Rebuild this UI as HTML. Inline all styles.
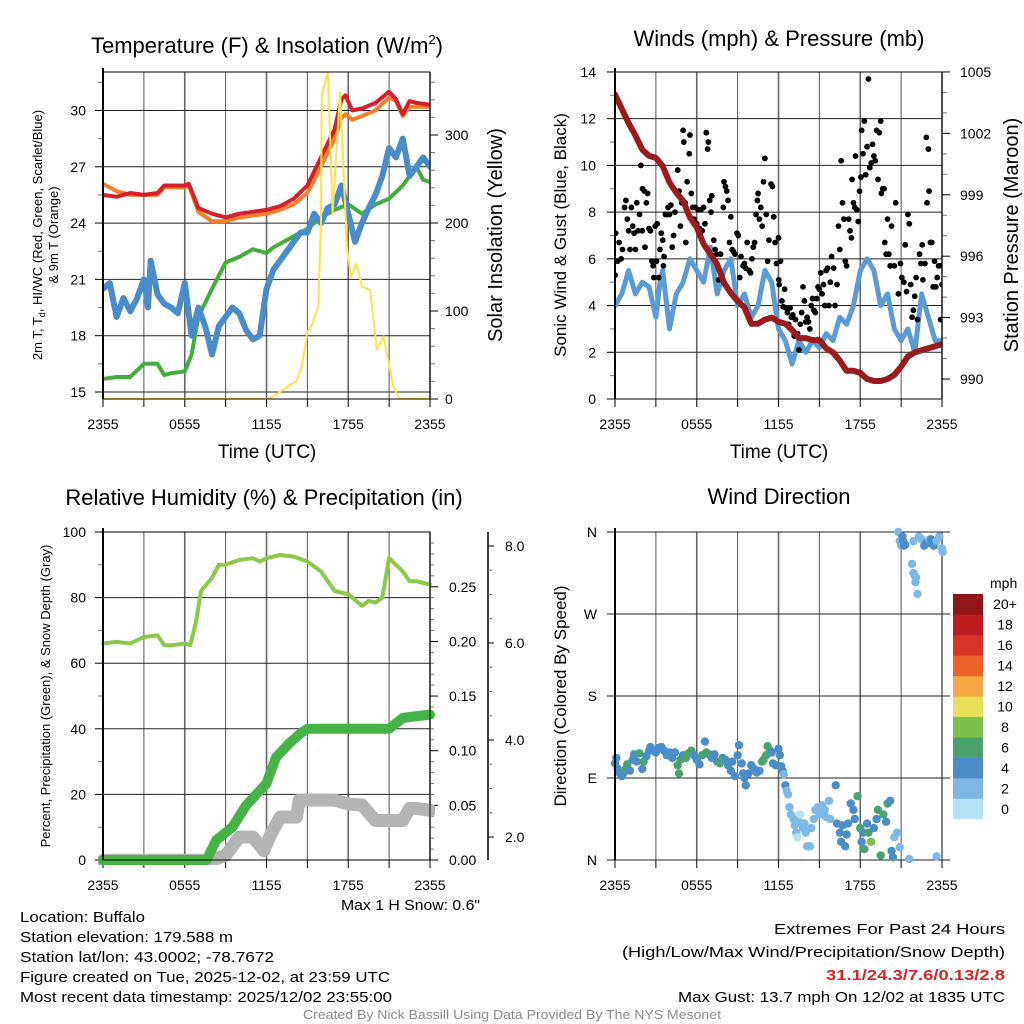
<!DOCTYPE html>
<html><head><meta charset="utf-8"><style>
html,body{margin:0;padding:0;background:#fff;}
svg{display:block;font-family:"Liberation Sans",Arial,sans-serif;}
</style></head><body>
<svg id="fig" width="1024" height="1024" viewBox="0 0 1024 1024" xmlns="http://www.w3.org/2000/svg">
<defs>
<clipPath id="cTL"><rect x="103" y="72" width="327" height="327"/></clipPath>
<clipPath id="cTR"><rect x="615" y="72" width="327" height="327"/></clipPath>
<clipPath id="cBL"><rect x="98" y="527" width="337" height="338"/></clipPath>
<clipPath id="cBR"><rect x="608" y="525" width="340" height="342"/></clipPath>
</defs>
<g font-size="15">
<text x="20" y="922" textLength="125" lengthAdjust="spacingAndGlyphs">Location: Buffalo</text>
<text x="20" y="942" textLength="213" lengthAdjust="spacingAndGlyphs">Station elevation: 179.588 m</text>
<text x="20" y="962" textLength="254" lengthAdjust="spacingAndGlyphs">Station lat/lon: 43.0002; -78.7672</text>
<text x="20" y="982" textLength="370" lengthAdjust="spacingAndGlyphs">Figure created on Tue, 2025-12-02, at 23:59 UTC</text>
<text x="20" y="1002" textLength="372" lengthAdjust="spacingAndGlyphs">Most recent data timestamp: 2025/12/02 23:55:00</text>
<text x="341" y="910" textLength="139" lengthAdjust="spacingAndGlyphs">Max 1 H Snow: 0.6"</text>
<text x="774" y="934" textLength="231" lengthAdjust="spacingAndGlyphs">Extremes For Past 24 Hours</text>
<text x="622" y="957" textLength="383" lengthAdjust="spacingAndGlyphs">(High/Low/Max Wind/Precipitation/Snow Depth)</text>
<text x="826" y="980" textLength="179" lengthAdjust="spacingAndGlyphs" font-weight="bold" fill="#d3262b">31.1/24.3/7.6/0.13/2.8</text>
<text x="678" y="1002" textLength="327" lengthAdjust="spacingAndGlyphs">Max Gust: 13.7 mph On 12/02 at 1835 UTC</text>
<text x="303" y="1019" font-size="12.5" textLength="418" lengthAdjust="spacingAndGlyphs" fill="#8a8a8a">Created By Nick Bassill Using Data Provided By The NYS Mesonet</text>
</g>
</svg>
<script>
// ---------- DATA ----------
const tHours=[0,1,2,3,4,4.5,5,6,6.3,7,8,9,10,11,12,13,14,15,16,17,17.5,17.8,18.3,19,20,21,21.5,22,22.5,23,24];
const tempRed=[25.5,25.4,25.6,25.5,25.6,26.0,26.0,26.0,26.1,24.8,24.5,24.3,24.5,24.6,24.7,24.9,25.3,26.0,27.5,29.0,30.6,30.8,30.0,30.1,30.4,31.0,30.6,29.8,30.5,30.4,30.3];
const tempOrange=[26.1,25.7,25.5,25.5,25.5,25.9,25.9,25.9,26.0,24.6,24.1,24.1,24.3,24.4,24.5,24.7,25.0,25.6,27.0,28.5,29.6,29.8,29.5,29.7,30.0,30.7,30.5,29.7,30.2,30.2,30.2];
const dewHours=[0,1,2,3,4,4.5,5,6,6.5,7,8,9,10,11,12,12.5,13,14,15,16,17,18,19,20,21,22,23,23.5,24];
const dewGreen=[15.7,15.8,15.8,16.5,16.5,15.9,16.0,16.1,17.0,19.0,20.5,21.9,22.2,22.6,22.4,22.7,22.9,23.3,23.7,24.3,24.7,25.0,24.5,25.0,25.3,26.0,27.0,26.3,26.2];
const hiHours=[0,0.5,1,1.5,2,2.5,3,3.3,3.5,4,4.5,5,5.5,6,6.5,7,7.5,8,8.5,9,9.5,10,10.5,11,11.5,12,12.5,13,13.5,14,14.5,15,15.5,16,16.5,17,17.5,18,18.5,19,19.5,20,20.5,21,21.5,22,22.5,23,23.5,24];
const hiBlue=[20.5,20.8,19.0,20.0,19.3,20.0,21.0,19.5,22.0,20.2,19.7,19.5,19.2,20.8,18.0,19.5,18.5,17.0,18.5,19.0,19.5,19.2,18.3,17.8,18.0,20.5,21.5,22.0,22.5,23.0,23.5,23.5,24.5,24.0,24.8,25.0,26.0,24.5,23.0,24.0,24.8,25.5,26.5,28.0,27.5,28.5,26.5,27.0,27.5,27.0];
const solarHours=[0,12,12.5,13,13.7,14.2,14.6,15,15.4,15.8,16,16.05,16.5,16.85,17.4,17.9,18.2,18.6,19,19.6,20.1,20.6,21.3,21.8,24];
const solarVals=[0,0,3,8,16,20,37,76,86,105,200,345,372,211,349,173,139,154,128,124,56,71,14,0,0];
const tempTicks=[15,18,21,24,27,30];
const solarTicks=[0,100,200,300];

const windHours=hiHours;
const windSpeed=[4.0,4.5,5.5,4.5,5.0,4.8,3.5,5.0,5.5,3.0,4.5,5.0,6.0,5.5,5.0,6.5,4.5,5.5,6.0,4.0,4.5,3.5,4.0,5.5,5.0,3.0,2.5,1.5,2.5,2.0,2.5,2.2,2.8,2.5,3.5,3.2,4.0,5.5,6.0,5.5,4.0,4.5,3.0,2.5,3.0,2.0,4.5,3.5,2.5,2.5];
const gustHours=[0,0.05,0.2,0.3,0.45,0.55,0.7,0.8,0.9,1,1.1,1.2,1.3,1.4,1.5,1.6,1.7,1.8,1.9,2,2.02,2.15,2.2,2.3,2.4,2.5,2.6,2.7,2.8,2.85,2.95,3.05,3.1,3.2,3.3,3.4,3.5,3.55,3.6,3.7,3.8,3.9,4,4.1,4.2,4.3,4.4,4.6,4.7,4.8,4.9,5,5.05,5.15,5.2,5.3,5.45,5.5,5.6,5.7,5.8,5.9,6,6.1,6.2,6.3,6.4,6.5,6.6,6.7,6.8,6.85,6.95,7.05,7.1,7.25,7.35,7.45,7.6,7.75,7.95,8,8.1,8.2,8.3,8.4,8.5,8.6,8.7,8.8,8.95,9.05,9.15,9.25,9.4,9.5,9.6,9.7,9.85,9.95,10.05,10.15,10.25,10.35,10.45,10.5,10.6,10.7,10.8,10.9,11,11.1,11.2,11.3,11.45,11.55,11.65,11.75,11.85,12,12.15,12.02,12.05,12.25,12.35,12.45,12.55,12.65,12.75,12.85,12.95,13.05,13.15,13.25,13.4,13.5,13.6,13.7,13.8,13.9,14,14.1,14.2,14.3,14.4,14.5,14.6,14.7,14.8,14.9,15,15.1,15.2,15.3,15.4,15.5,15.6,15.7,15.8,15.9,16.05,16.15,16.3,16.4,16.5,16.6,16.7,16.8,16.9,17,17.15,17.25,17.35,17.4,17.5,17.6,17.65,17.75,17.85,17.95,18.05,18.1,18.2,18.3,18.4,18.5,18.6,18.7,18.8,18.9,19,19.1,19.2,19.3,19.4,19.5,19.55,19.65,19.75,19.8,19.9,20,20.1,20.2,20.3,20.5,20.6,20.8,20.95,21.05,21.2,21.3,21.4,21.5,21.6,21.7,21.8,21.9,22,22.1,22.2,22.35,22.45,22.55,22.6,22.75,22.85,22.9,23,23.05,23.15,23.25,23.35,23.45,23.55,23.65,23.75,23.85,23.9,24];
const gustVals=[5.3,7.1,5.9,6.7,6.0,6.4,8.2,8.5,7.7,7.2,6.4,8.2,7.4,7.1,6.4,8.4,7.2,7.9,10.0,7.2,9.0,8.9,6.5,8.4,8.8,7.3,7.2,5.9,5.7,5.2,7.4,5.9,7.5,5.2,6.4,7.1,6.8,5.7,6.1,7.9,7.9,8.2,7.9,8.3,6.5,7.0,8.0,9.8,8.9,7.4,8.4,11.5,11.0,8.4,6.7,9.3,10.5,11.3,8.8,8.2,7.7,8.2,7.5,8.1,7.3,8.1,7.2,8.2,7.5,11.4,10.7,11.0,8.5,8.0,8.7,6.8,6.4,6.2,5.1,6.2,8.2,9.3,9.1,8.9,8.5,6.7,7.8,6.4,6.3,6.2,7.1,7.0,5.2,6.1,5.7,5.8,5.6,6.7,5.5,5.4,6.0,6.5,6.7,7.9,8.5,8.8,7.7,8.2,7.4,9.3,10.3,7.9,5.9,6.8,9.2,9.1,7.8,6.7,5.8,6.9,5.9,5.1,4.9,4.2,3.95,4.7,3.9,3.7,3.2,3.9,3.5,3.6,2.7,3.4,2.8,2.1,3.2,3.7,4.8,4.2,3.3,3.5,3.3,3.0,4.0,4.3,3.8,3.7,4.3,4.8,4.7,5.4,4.5,4.9,4.0,5.5,5.6,4.0,5.0,6.1,5.6,4.0,4.9,7.4,6.4,10.2,8.4,7.7,5.9,5.7,7.7,7.2,6.9,9.4,8.4,8.2,10.4,8.1,7.6,8.9,9.5,11.5,10.5,11.9,9.6,10.8,13.7,9.9,10.1,10.9,10.4,10.2,11.5,9.4,11.4,11.9,8.8,9.0,9.0,6.7,6.2,7.7,6.2,5.7,7.4,5.7,8.4,4.5,5.8,5.2,5.0,6.6,4.6,7.9,7.5,4.9,3.5,3.8,4.4,5.2,3.4,6.2,5.8,6.6,5.1,5.8,11.2,8.4,10.7,8.9,6.7,6.7,4.8,5.9,4.8,5.2,5.7,5.7,3.4,4.9];
const presHours=[0,1,1.5,2,2.5,3,3.5,4,4.5,5,5.5,6,6.5,7,7.5,8,8.5,9,9.5,10,10.5,11,11.5,12,12.5,13,13.5,14,14.5,15,15.5,16,16.5,17,17.5,18,18.5,19,19.5,20,20.5,21,21.5,22,22.5,23,23.5,24];
const presVals=[1003.9,1002.5,1001.9,1001.2,1000.9,1000.8,1000.4,999.6,999.1,998.7,997.9,997.4,996.6,996.1,995.6,994.7,994.2,993.8,993.5,992.7,992.7,992.9,993.0,992.8,992.7,992.4,992.0,992.0,991.9,991.9,991.5,991.3,990.9,990.4,990.4,990.3,990.0,989.9,989.9,990.0,990.2,990.6,991.1,991.3,991.4,991.5,991.6,991.7];
const windTicks=[0,2,4,6,8,10,12,14];
const presTicks=[990,993,996,999,1002,1005];

const rhHours=[0,1,2,3,4,4.5,5,6,6.4,6.8,7.2,8,8.5,9,10,11,11.5,12,13,14,15,16,16.5,17,18,19,19.5,20,20.5,21,21.5,22,22.5,23,24];
const rhVals=[66,66.5,66,68,68.5,65.5,65.5,66,65.5,72,82,86,90,90,91.5,92,91,92,93,92.5,91,88,85,82,81,77.5,79,78.5,80,92,90,88,85,85,84];
const precipHours=[0,7.6,8.3,9.5,10.5,12,12.7,13.7,14.5,15,21,21.3,22,24];
const precipVals=[0,0,0.018,0.030,0.050,0.070,0.094,0.107,0.116,0.120,0.120,0.123,0.130,0.133];
const snowHours=[0,8.0,9.0,10.0,11.0,11.8,12.3,13.0,14.2,14.4,15.0,17.0,18.0,19.0,19.5,20.0,21.0,22.0,22.5,23.0,24.0];
const snowVals=[1.52,1.52,1.62,2.0,2.0,1.72,2.05,2.41,2.41,2.76,2.76,2.76,2.68,2.66,2.50,2.34,2.34,2.34,2.59,2.59,2.55];
const rhTicks=[0,20,40,60,80,100];
const precipTicks=["0.00","0.05","0.10","0.15","0.20","0.25"];
const snowTicks=["2.0","4.0","6.0","8.0"];

const dirHours=[0,0.1,0.2,0.3,0.5,0.6,0.8,0.9,1.1,1.3,1.4,1.6,1.8,2,2.1,2.3,2.5,2.6,2.8,3,3.2,3.4,3.6,3.8,4,4.2,4.4,4.6,4.7,4.8,5,5.2,5.3,5.5,5.6,5.8,6,6.2,6.4,6.6,6.7,6.9,7.1,7.3,7.5,7.7,7.9,8.1,8.3,8.5,8.6,8.8,9,9.1,9.3,9.4,9.5,9.6,9.8,10,10.2,10.4,10.6,10.8,10.9,11.1,11.2,11.4,11.5,11.6,11.8,12,12.1,12.2,12.3,12.4,12.5,12.6,12.7,12.8,12.9,13.1,13.2,13.3,13.4,13.5,13.6,13.8,13.9,14,14.1,14.2,14.3,14.4,14.6,14.7,14.9,15,15.2,15.4,15.5,15.7,15.8,16.2,16.3,16.5,16.6,16.7,16.9,17.0,17.1,17.3,17.5,17.6,17.8,18.0,18.1,18.2,18.3,18.5,18.6,18.8,19.0,19.2,19.3,19.5,19.7,19.9,20.0,20.2,20.3,20.4,20.5,20.7,20.9,21.6,23.6,20.8,20.9,21.0,21.1,21.15,21.2,21.3,21.8,21.9,22.0,22.05,22.1,22.2,21.9,22.3,22.5,22.7,22.85,23.0,23.1,23.2,23.4,23.6,23.8,24.0,24.05];
const dirVals=[106,112,100,96,92,95,100,105,98,110,116,108,117,100,108,114,120,124,120,118,123,124,120,115,118,112,118,104,95,110,115,112,116,118,120,115,110,105,115,130,118,116,112,116,108,106,112,110,104,98,108,92,115,126,106,95,90,82,95,104,100,96,98,108,110,115,125,120,118,106,104,122,115,103,98,94,82,76,72,58,50,45,38,30,25,42,50,35,40,30,15,15,15,35,45,55,58,50,60,55,47,65,45,82,40,30,20,38,15,28,40,62,55,45,70,35,20,30,12,40,30,20,35,45,55,5,50,42,62,65,10,3,25,30,14,1,4,360,350,345,355,350,345,346,325,315,312,305,310,292,350,355,352,345,348,348,352,352,345,350,355,342,338];
const dirSpeed=[4,4,4,4,4,4,6,6,4,4,4,4,6,4,6,4,4,4,4,4,4,4,4,4,4,4,4,6,6,6,4,6,6,6,6,4,4,4,6,4,6,6,4,4,4,6,6,4,4,4,4,4,4,4,4,4,4,4,4,4,4,4,4,6,6,6,6,6,4,4,4,4,4,4,4,2,4,2,2,2,2,2,2,2,0,2,0,2,2,2,2,2,2,2,2,2,2,2,2,2,2,2,2,4,4,4,4,4,4,4,4,4,4,4,6,6,4,4,6,4,6,8,4,4,6,6,6,4,6,4,4,4,2,2,2,2,2,2,2,2,4,4,4,4,2,2,2,2,2,2,2,2,2,4,4,4,2,4,4,2,2,2,2];
const dirLabels=["N","E","S","W","N"];
const dirTickDeg=[0,90,180,270,360];
const cbLabels=["0","2","4","6","8","10","12","14","16","18","20+"];
const cbColors=["#b6e2f7","#7eb9e5","#4a8dc8","#4aa36f","#7cc04a","#e6e05a","#f6a644","#ee6229","#da3428","#bd1c23","#90161a"];
const timeLabels=["2355","0555","1155","1755","2355"];

// ---------- HELPERS ----------
const NS="http://www.w3.org/2000/svg";
const svg=document.getElementById('fig');
function mk(tag,attrs,parent){const e=document.createElementNS(NS,tag);for(const k in attrs)e.setAttribute(k,attrs[k]);(parent||svg).appendChild(e);return e;}
function txt(s,attrs,parent){const e=mk('text',attrs,parent);e.textContent=s;return e;}
function linePath(hs,vs,xf,yf){let d='';for(let i=0;i<hs.length;i++){d+=(i?'L':'M')+xf(hs[i]).toFixed(1)+','+yf(vs[i]).toFixed(1);}return d;}

function frame(g,X0,X1,Y0,Y1,prefix){
  for(let i=0;i<=8;i++){
    const x=X0+i*(X1-X0)/8;
    const gl=mk('line',{x1:x,y1:Y0,x2:x,y2:Y1,stroke:(i%2?'#555':'#666'),'stroke-width':(i%2?1:1.6)},g);
    
    
    const tk=mk('line',{x1:x,y1:Y1,x2:x,y2:Y1+8,stroke:'#000','stroke-width':1},g);
    
    
  }
  for(let i=0;i<timeLabels.length;i++){
    const t=txt(timeLabels[i],{x:X0+i*(X1-X0)/4,y:Y1+30,'font-size':14,'text-anchor':'middle'},g);
    
    
  }
}
function hgrid(g,X0,X1,y,prefix){
  const l=mk('line',{x1:X0,y1:y,x2:X1,y2:y,stroke:'#222','stroke-width':1},g);
  
  
  const t=mk('line',{x1:X0-8,y1:y,x2:X0,y2:y,stroke:'#000'},g);
  
  
}
function minorTick(g,x,y,dir,len,prefix){
  const t=mk('line',{x1:x,y1:y,x2:x+dir*len,y2:y,stroke:'#777','stroke-width':1},g);
  
  
}
function border(g,X0,X1,Y0,Y1,prefix){
  const b=mk('rect',{x:X0,y:Y0,width:X1-X0,height:Y1-Y0,fill:'none',stroke:'#000','stroke-width':1},g);
  
  
  const l=mk('line',{x1:X0,y1:Y0-4,x2:X0,y2:Y1,stroke:'#000','stroke-width':2},g);
  
  
}

// ============ TOP LEFT: Temperature ============
(function(){
  const X0=103,X1=430,Y0=72,Y1=399;
  const x=h=>X0+h/24*(X1-X0);
  const ty=v=>392-(v-15)*18.77;
  const sy=v=>399-v*0.88;
  const g=mk('g',{});
  
  
  const ttl=txt('Temperature (F) & Insolation (W/m',{x:267,y:53,'font-size':22,'text-anchor':'middle'},g);
  const sup=mk('tspan',{dy:-9,'font-size':13},ttl);sup.textContent='2';
  const cl=mk('tspan',{dy:9},ttl);cl.textContent=')';
  
  
  frame(g,X0,X1,Y0,Y1,'temp');
  for(const v of tempTicks){
    hgrid(g,X0,X1,ty(v),'temp');
    const t=txt(String(v),{x:86,y:ty(v)+5,'font-size':14,'text-anchor':'end'},g);
    
    
    const m=ty(v+1.5);if(m>Y0)minorTick(g,X0,m,-1,5,'temp');
  }
  for(const v of solarTicks){
    const t=mk('line',{x1:X1,y1:sy(v),x2:X1+8,y2:sy(v),stroke:'#000'},g);
    
    
    const l=txt(String(v),{x:445,y:sy(v)+5,'font-size':14},g);
    
    
  }
  for(let v=20;v<=360;v+=20){if(v%100)minorTick(g,X1,sy(v),1,5,'solar');}
  const pg=mk('g',{'clip-path':'url(#cTL)','stroke-linejoin':'round','stroke-linecap':'round',fill:'none'},g);
  const s1=mk('path',{d:linePath(dewHours,dewGreen,x,ty),stroke:'#43ad3c','stroke-width':4},pg);
  
  
  const s2=mk('path',{d:linePath(hiHours,hiBlue,x,ty),stroke:'#4a8cca','stroke-width':6},pg);
  
  
  const s3=mk('path',{d:linePath(tHours,tempOrange,x,ty),stroke:'#f47f2c','stroke-width':4},pg);
  
  
  const s4=mk('path',{d:linePath(tHours,tempRed,x,ty),stroke:'#d3202a','stroke-width':4},pg);
  
  
  const s5=mk('path',{d:linePath(solarHours,solarVals,x,sy),stroke:'#fde14e','stroke-width':2},pg);
  
  
  border(g,X0,X1,Y0,Y1,'temp');
  const xt=txt('Time (UTC)',{x:267,y:458,'font-size':19,'text-anchor':'middle'},g);
  
  
  const yt=txt('2m T, T',{x:0,y:0,'font-size':13,'text-anchor':'middle',transform:'translate(42,235) rotate(-90)'},g);
  const sub=mk('tspan',{'font-size':9,dy:3},yt);sub.textContent='d';
  const rest=mk('tspan',{dy:-3},yt);rest.textContent=', HI/WC (Red, Green, Scarlet/Blue)';
  
  
  const yt2=txt('& 9m T (Orange)',{x:0,y:0,'font-size':13,'text-anchor':'middle',transform:'translate(58,235) rotate(-90)'},g);
  
  
  const rt=txt('Solar Insolation (Yellow)',{x:0,y:0,'font-size':20,'text-anchor':'middle',transform:'translate(502,235) rotate(-90)'},g);
  
  
})();

// ============ TOP RIGHT: Winds ============
(function(){
  const X0=615,X1=942,Y0=72,Y1=399;
  const x=h=>X0+h/24*(X1-X0);
  const wy=v=>399-v*23.36;
  const py=p=>379-(p-990)*20.47;
  const g=mk('g',{});
  
  
  const ttl=txt('Winds (mph) & Pressure (mb)',{x:779,y:46,'font-size':22,'text-anchor':'middle'},g);
  
  
  frame(g,X0,X1,Y0,Y1,'wind');
  for(const v of windTicks){
    hgrid(g,X0,X1,wy(v),'wind');
    const t=txt(String(v),{x:596,y:wy(v)+5,'font-size':14,'text-anchor':'end'},g);
    
    
    if(v<14)minorTick(g,X0,wy(v+1),-1,5,'wind');
  }
  for(const p of presTicks){
    const t=mk('line',{x1:X1,y1:py(p),x2:X1+8,y2:py(p),stroke:'#000'},g);
    
    
    const l=txt(String(p),{x:960,y:py(p)+5,'font-size':14},g);
    
    
  }
  for(let p=990;p<1005;p+=1){if((p-990)%3)minorTick(g,X1,py(p),1,5,'pressure');}
  const pg=mk('g',{'clip-path':'url(#cTR)','stroke-linejoin':'round','stroke-linecap':'round',fill:'none'},g);
  const w=mk('path',{d:linePath(windHours,windSpeed,x,wy),stroke:'#5b9bd5','stroke-width':5},pg);
  
  
  for(let i=0;i<gustHours.length;i++){
    const c=mk('circle',{cx:x(gustHours[i]),cy:wy(gustVals[i]),r:2.9,fill:'#000'},pg);
    
    
  }
  const pr=mk('path',{d:linePath(presHours,presVals,x,py),stroke:'#981b1e','stroke-width':6},pg);
  
  
  border(g,X0,X1,Y0,Y1,'wind');
  const xt=txt('Time (UTC)',{x:779,y:458,'font-size':19,'text-anchor':'middle'},g);
  
  
  const yt=txt('Sonic Wind & Gust (Blue, Black)',{x:0,y:0,'font-size':17,'text-anchor':'middle',transform:'translate(566,235) rotate(-90)'},g);
  
  
  const rt=txt('Station Pressure (Maroon)',{x:0,y:0,'font-size':20,'text-anchor':'middle',transform:'translate(1018,235) rotate(-90)'},g);
  
  
})();

// ============ BOTTOM LEFT: RH ============
(function(){
  const X0=103,X1=430,Y0=532,Y1=860;
  const x=h=>X0+h/24*(X1-X0);
  const ry=v=>860-v*3.28;
  const prY=v=>860-v*1093;
  const snY=v=>837-(v-2)*48.5;
  const g=mk('g',{});
  
  
  const ttl=txt('Relative Humidity (%) & Precipitation (in)',{x:264,y:505,'font-size':22,'text-anchor':'middle'},g);
  
  
  frame(g,X0,X1,Y0,Y1,'rh');
  for(const v of rhTicks){
    hgrid(g,X0,X1,ry(v),'rh');
    const t=txt(String(v),{x:86,y:ry(v)+5,'font-size':14,'text-anchor':'end'},g);
    
    
    if(v<100)minorTick(g,X0,ry(v+10),-1,5,'rh');
  }
  for(const s of precipTicks){
    const v=parseFloat(s);
    const t=mk('line',{x1:X1,y1:prY(v),x2:X1+8,y2:prY(v),stroke:'#000'},g);
    
    
    const l=txt(s,{x:449,y:prY(v)+5,'font-size':14},g);
    
    
  }
  for(let i=1;i<30;i++){if(i%5)minorTick(g,X1,prY(i*0.01),1,4,'precip');}
  const ax=mk('line',{x1:488,y1:532,x2:488,y2:860,stroke:'#000','stroke-width':1.5},g);
  
  
  for(const s of snowTicks){
    const v=parseFloat(s);
    const t=mk('line',{x1:488,y1:snY(v),x2:494,y2:snY(v),stroke:'#000'},g);
    
    
    const l=txt(s,{x:505,y:snY(v)+5,'font-size':14},g);
    
    
  }
  for(let v=2.5;v<8.3;v+=0.5){if(v%2)minorTick(g,488,snY(v),1,4,'snow');}
  const pg=mk('g',{'clip-path':'url(#cBL)','stroke-linejoin':'round','stroke-linecap':'round',fill:'none'},g);
  const sn=mk('path',{d:linePath(snowHours,snowVals,x,snY),stroke:'#b4b4b4','stroke-width':13},pg);
  
  
  const pp=mk('path',{d:linePath(precipHours,precipVals,x,prY),stroke:'#46b346','stroke-width':10},pg);
  
  
  const rh=mk('path',{d:linePath(rhHours,rhVals,x,ry),stroke:'#8bc84c','stroke-width':4},pg);
  
  
  border(g,X0,X1,Y0,Y1,'rh');
  const yt=txt('Percent, Precipitation (Green), & Snow Depth (Gray)',{x:0,y:0,'font-size':13,'text-anchor':'middle',transform:'translate(50,696) rotate(-90)'},g);
  
  
})();

// ============ BOTTOM RIGHT: Wind Direction ============
(function(){
  const X0=615,X1=942,Y0=532,Y1=860;
  const x=h=>X0+h/24*(X1-X0);
  const dy=d=>860-d*0.9111;
  const g=mk('g',{});
  
  
  const ttl=txt('Wind Direction',{x:779,y:504,'font-size':22,'text-anchor':'middle'},g);
  
  
  frame(g,X0,X1,Y0,Y1,'dir');
  for(let i=0;i<dirTickDeg.length;i++){
    const y=dy(dirTickDeg[i]);
    const l=mk('line',{x1:X0-8,y1:y,x2:X1+8,y2:y,stroke:'#222'},g);
    
    
    const t=txt(dirLabels[i],{x:597,y:y+5,'font-size':14,'text-anchor':'end'},g);
    
    
  }
  const pg=mk('g',{'clip-path':'url(#cBR)'},g);
  for(let i=0;i<dirHours.length;i++){
    const ci=Math.min(cbColors.length-1,Math.round(dirSpeed[i]/2));
    const c=mk('circle',{cx:x(dirHours[i]),cy:dy(dirVals[i]),r:4.2,fill:cbColors[ci]},pg);
    
    
  }
  const l=mk('line',{x1:X0,y1:Y0-4,x2:X0,y2:Y1,stroke:'#000','stroke-width':2},g);
  
  
  const yt=txt('Direction (Colored By Speed)',{x:0,y:0,'font-size':17,'text-anchor':'middle',transform:'translate(566,696) rotate(-90)'},g);
  
  
  const cb=mk('g',{},g);
  
  
  const CB0=594,CB1=819,bh=(CB1-CB0)/cbColors.length;
  for(let i=0;i<cbColors.length;i++){
    const y=CB1-(i+1)*bh;
    const r=mk('rect',{x:953,y:y,width:30,height:bh+0.3,fill:cbColors[i]},cb);
    
    
    const t=txt(cbLabels[i],{x:1005,y:y+bh/2+5,'font-size':14,'text-anchor':'middle'},cb);
    
    
  }
  const u=txt('mph',{x:990,y:588,'font-size':14},cb);
  
  
})();
</script>
</body></html>
